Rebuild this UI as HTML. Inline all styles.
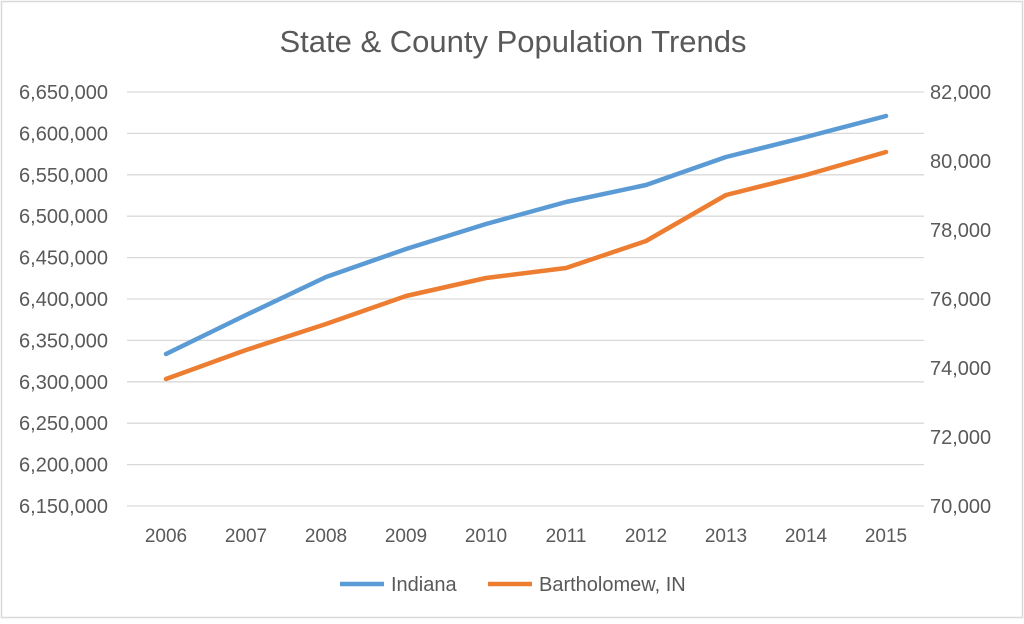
<!DOCTYPE html>
<html><head><style>
body{margin:0;background:#fff;}
svg text{font-family:"Liberation Sans",sans-serif;fill:#595959;}
</style></head><body>
<svg width="1024" height="619" xmlns="http://www.w3.org/2000/svg">
<rect x="1.5" y="1.5" width="1021" height="616" fill="#fff" stroke="#d9d9d9" stroke-width="1.5"/>
<text x="513" y="52" font-size="31" text-anchor="middle">State &amp; County Population Trends</text>
<g stroke="#d9d9d9" stroke-width="1.3">
<line x1="127" x2="924" y1="92" y2="92"/><line x1="127" x2="924" y1="133.4" y2="133.4"/>
<line x1="127" x2="924" y1="174.8" y2="174.8"/><line x1="127" x2="924" y1="216.2" y2="216.2"/>
<line x1="127" x2="924" y1="257.6" y2="257.6"/><line x1="127" x2="924" y1="299" y2="299"/>
<line x1="127" x2="924" y1="340.4" y2="340.4"/><line x1="127" x2="924" y1="381.8" y2="381.8"/>
<line x1="127" x2="924" y1="423.2" y2="423.2"/><line x1="127" x2="924" y1="464.6" y2="464.6"/>
<line x1="127" x2="924" y1="506" y2="506"/>
</g>
<g font-size="20" text-anchor="end">
<text x="108" y="99">6,650,000</text><text x="108" y="140.4">6,600,000</text>
<text x="108" y="181.8">6,550,000</text><text x="108" y="223.2">6,500,000</text>
<text x="108" y="264.6">6,450,000</text><text x="108" y="306">6,400,000</text>
<text x="108" y="347.4">6,350,000</text><text x="108" y="388.8">6,300,000</text>
<text x="108" y="430.2">6,250,000</text><text x="108" y="471.6">6,200,000</text>
<text x="108" y="513">6,150,000</text>
</g>
<g font-size="20" text-anchor="start">
<text x="930" y="99">82,000</text><text x="930" y="168">80,000</text>
<text x="930" y="237">78,000</text><text x="930" y="306">76,000</text>
<text x="930" y="375">74,000</text><text x="930" y="444">72,000</text>
<text x="930" y="513">70,000</text>
</g>
<g font-size="19" text-anchor="middle">
<text x="166" y="542">2006</text><text x="246" y="542">2007</text><text x="326" y="542">2008</text>
<text x="406" y="542">2009</text><text x="486" y="542">2010</text><text x="566" y="542">2011</text>
<text x="646" y="542">2012</text><text x="726" y="542">2013</text><text x="806" y="542">2014</text>
<text x="886" y="542">2015</text>
</g>
<polyline fill="none" stroke="#5b9bd5" stroke-width="4.5" stroke-linejoin="round" stroke-linecap="round"
points="166,354 246,315 326,277 406,249 486,224 566,202 646,185 726,157 806,137 886,116"/>
<polyline fill="none" stroke="#ed7d31" stroke-width="4.5" stroke-linejoin="round" stroke-linecap="round"
points="166,379 246,350 326,324 406,296 486,278 566,268 646,241 726,195 806,175 886,152"/>
<line x1="340" x2="384" y1="584" y2="584" stroke="#5b9bd5" stroke-width="4.5"/>
<text x="391" y="591" font-size="20">Indiana</text>
<line x1="488" x2="532" y1="584" y2="584" stroke="#ed7d31" stroke-width="4.5"/>
<text x="539" y="591" font-size="20">Bartholomew, IN</text>
</svg>
</body></html>
